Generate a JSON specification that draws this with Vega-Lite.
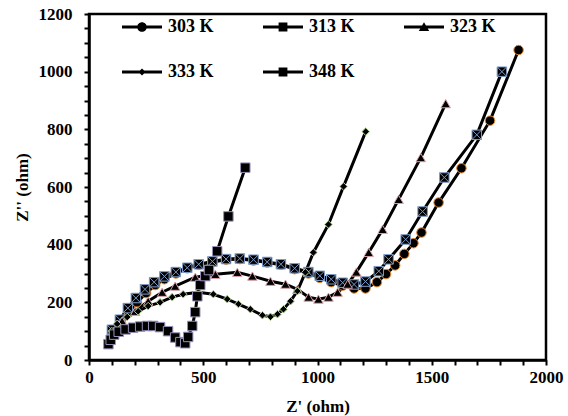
{
  "$schema": "https://vega.github.io/schema/vega-lite/v6.json",
  "autosize": "none",
  "width": 457,
  "height": 346,
  "padding": {"left": 89, "top": 14, "right": 22, "bottom": 56},
  "background": "white",
  "config": {
    "view": {"stroke": "black", "strokeWidth": 2.5},
    "font": "Liberation Serif"
  },
  "data": {"values": [
    {"s":"303 K","x":105,"y":98},{"s":"303 K","x":140,"y":130},{"s":"303 K","x":175,"y":165},{"s":"303 K","x":210,"y":200},{"s":"303 K","x":250,"y":232},{"s":"303 K","x":290,"y":260},{"s":"303 K","x":330,"y":280},{"s":"303 K","x":380,"y":300},{"s":"303 K","x":430,"y":318},{"s":"303 K","x":480,"y":330},{"s":"303 K","x":540,"y":340},{"s":"303 K","x":600,"y":348},{"s":"303 K","x":660,"y":350},{"s":"303 K","x":720,"y":345},{"s":"303 K","x":780,"y":338},{"s":"303 K","x":840,"y":330},{"s":"303 K","x":900,"y":315},{"s":"303 K","x":960,"y":300},{"s":"303 K","x":1010,"y":285},{"s":"303 K","x":1060,"y":270},{"s":"303 K","x":1110,"y":258},{"s":"303 K","x":1160,"y":248},{"s":"303 K","x":1210,"y":248},{"s":"303 K","x":1260,"y":270},{"s":"303 K","x":1300,"y":298},{"s":"303 K","x":1340,"y":328},{"s":"303 K","x":1380,"y":368},{"s":"303 K","x":1420,"y":405},{"s":"303 K","x":1455,"y":442},{"s":"303 K","x":1530,"y":546},{"s":"303 K","x":1630,"y":665},{"s":"303 K","x":1755,"y":830},{"s":"303 K","x":1880,"y":1075},
    {"s":"313 K","x":100,"y":105},{"s":"313 K","x":135,"y":140},{"s":"313 K","x":170,"y":180},{"s":"313 K","x":205,"y":215},{"s":"313 K","x":245,"y":245},{"s":"313 K","x":285,"y":270},{"s":"313 K","x":330,"y":290},{"s":"313 K","x":380,"y":305},{"s":"313 K","x":430,"y":320},{"s":"313 K","x":480,"y":332},{"s":"313 K","x":540,"y":342},{"s":"313 K","x":600,"y":350},{"s":"313 K","x":660,"y":352},{"s":"313 K","x":720,"y":348},{"s":"313 K","x":780,"y":340},{"s":"313 K","x":840,"y":332},{"s":"313 K","x":900,"y":318},{"s":"313 K","x":960,"y":305},{"s":"313 K","x":1010,"y":292},{"s":"313 K","x":1060,"y":280},{"s":"313 K","x":1110,"y":268},{"s":"313 K","x":1160,"y":262},{"s":"313 K","x":1210,"y":272},{"s":"313 K","x":1268,"y":308},{"s":"313 K","x":1311,"y":349},{"s":"313 K","x":1386,"y":418},{"s":"313 K","x":1460,"y":515},{"s":"313 K","x":1555,"y":633},{"s":"313 K","x":1697,"y":781},{"s":"313 K","x":1807,"y":1000},
    {"s":"323 K","x":110,"y":100},{"s":"323 K","x":145,"y":135},{"s":"323 K","x":202,"y":169},{"s":"323 K","x":259,"y":204},{"s":"323 K","x":320,"y":235},{"s":"323 K","x":377,"y":256},{"s":"323 K","x":465,"y":287},{"s":"323 K","x":553,"y":297},{"s":"323 K","x":649,"y":304},{"s":"323 K","x":715,"y":291},{"s":"323 K","x":794,"y":273},{"s":"323 K","x":860,"y":263},{"s":"323 K","x":912,"y":245},{"s":"323 K","x":961,"y":218},{"s":"323 K","x":1004,"y":211},{"s":"323 K","x":1048,"y":218},{"s":"323 K","x":1088,"y":235},{"s":"323 K","x":1132,"y":263},{"s":"323 K","x":1170,"y":305},{"s":"323 K","x":1224,"y":373},{"s":"323 K","x":1285,"y":453},{"s":"323 K","x":1355,"y":557},{"s":"323 K","x":1452,"y":702},{"s":"323 K","x":1561,"y":889},
    {"s":"333 K","x":100,"y":100},{"s":"333 K","x":123,"y":125},{"s":"333 K","x":167,"y":149},{"s":"333 K","x":215,"y":169},{"s":"333 K","x":259,"y":187},{"s":"333 K","x":311,"y":200},{"s":"333 K","x":364,"y":218},{"s":"333 K","x":412,"y":228},{"s":"333 K","x":478,"y":235},{"s":"333 K","x":544,"y":228},{"s":"333 K","x":605,"y":211},{"s":"333 K","x":654,"y":194},{"s":"333 K","x":706,"y":176},{"s":"333 K","x":759,"y":155},{"s":"333 K","x":794,"y":150},{"s":"333 K","x":825,"y":159},{"s":"333 K","x":851,"y":176},{"s":"333 K","x":882,"y":204},{"s":"333 K","x":912,"y":239},{"s":"333 K","x":947,"y":304},{"s":"333 K","x":982,"y":373},{"s":"333 K","x":1048,"y":470},{"s":"333 K","x":1114,"y":602},{"s":"333 K","x":1211,"y":792},
    {"s":"348 K","x":85,"y":55},{"s":"348 K","x":95,"y":70},{"s":"348 K","x":110,"y":88},{"s":"348 K","x":130,"y":98},{"s":"348 K","x":160,"y":106},{"s":"348 K","x":193,"y":112},{"s":"348 K","x":224,"y":116},{"s":"348 K","x":254,"y":118},{"s":"348 K","x":281,"y":118},{"s":"348 K","x":311,"y":114},{"s":"348 K","x":346,"y":100},{"s":"348 K","x":377,"y":78},{"s":"348 K","x":400,"y":62},{"s":"348 K","x":421,"y":58},{"s":"348 K","x":434,"y":80},{"s":"348 K","x":452,"y":118},{"s":"348 K","x":465,"y":166},{"s":"348 K","x":474,"y":221},{"s":"348 K","x":487,"y":260},{"s":"348 K","x":509,"y":291},{"s":"348 K","x":525,"y":312},{"s":"348 K","x":561,"y":377},{"s":"348 K","x":610,"y":498},{"s":"348 K","x":684,"y":667}
  ]},
  "encoding": {
    "x": {"field": "x", "type": "quantitative",
      "scale": {"domain": [0, 2000], "nice": false},
      "axis": {"title": "Z' (ohm)", "values": [0,100,200,300,400,500,600,700,800,900,1000,1100,1200,1300,1400,1500,1600,1700,1800,1900,2000],
        "labelExpr": "datum.value % 500 === 0 ? datum.label : ''",
        "format": "d", "grid": false, "domainColor": "black", "domainWidth": 2.5, "tickColor": "black", "tickWidth": 2, "tickSize": 5,
        "labelFont": "Liberation Serif", "labelFontWeight": "bold", "labelFontSize": 17, "labelColor": "black", "labelPadding": 4, "labelFlush": false, "labelOverlap": false,
        "titleFont": "Liberation Serif", "titleFontWeight": "bold", "titleFontSize": 17, "titleColor": "black", "titlePadding": 13}},
    "y": {"field": "y", "type": "quantitative",
      "scale": {"domain": [0, 1200], "nice": false},
      "axis": {"title": "Z'' (ohm)", "values": [0,50,100,150,200,250,300,350,400,450,500,550,600,650,700,750,800,850,900,950,1000,1050,1100,1150,1200],
        "labelExpr": "datum.value % 200 === 0 ? datum.label : ''",
        "format": "d", "grid": false, "domainColor": "black", "domainWidth": 2.5, "tickColor": "black", "tickWidth": 2, "tickSize": 5,
        "labelFont": "Liberation Serif", "labelFontWeight": "bold", "labelFontSize": 17, "labelColor": "black", "labelPadding": 12, "labelFlush": false, "labelOverlap": false,
        "titleFont": "Liberation Serif", "titleFontWeight": "bold", "titleFontSize": 17, "titleColor": "black", "titlePadding": 7}}
  },
  "layer": [
    {"mark": {"type": "line", "color": "black", "strokeWidth": 3},
     "encoding": {"detail": {"field": "s"}, "order": {"value": null}}},
    {"mark": {"type": "point", "filled": true, "fill": "black", "strokeWidth": 1, "opacity": 1, "size": 90},
     "encoding": {
       "shape": {"field": "s", "type": "nominal",
         "scale": {"domain": ["303 K","313 K","323 K","333 K","348 K"],
           "range": ["circle", "M-1,-1L1,-1L1,1L-1,1ZM-1,-1L1,1M-1,1L1,-1", "triangle-up", "M0,-0.8L0.8,0L0,0.8L-0.8,0Z", "square"]},
         "legend": null},
       "stroke": {"field": "s", "type": "nominal",
         "scale": {"domain": ["303 K","313 K","323 K","333 K","348 K"],
           "range": ["#e8892b", "#7e9cc8", "#d9a0a8", "#b8d49a", "#9a90b8"]}, "legend": null}
     }},
    {"transform": [{"filter": "datum.x < 0"}],
     "mark": {"type": "point", "filled": true, "fill": "black", "color": "black", "opacity": 1},
     "encoding": {
       "shape": {"field": "s", "type": "nominal",
         "scale": {"domain": ["303 K","313 K","323 K","333 K","348 K"],
           "range": [
             "M-5,-0.4L5,-0.4L5,0.4L-5,0.4ZM1.2,0A1.2,1.2,0,1,1,-1.2,0A1.2,1.2,0,1,1,1.2,0Z",
             "M-5,-0.4L5,-0.4L5,0.4L-5,0.4ZM-1.1,-1.1L1.1,-1.1L1.1,1.1L-1.1,1.1Z",
             "M-5,-0.4L5,-0.4L5,0.4L-5,0.4ZM0,-1.2L1.3,1L-1.3,1Z",
             "M-5,-0.4L5,-0.4L5,0.4L-5,0.4ZM0,-0.9L0.9,0L0,0.9L-0.9,0Z",
             "M-5,-0.4L5,-0.4L5,0.4L-5,0.4ZM-1.1,-1.1L1.1,-1.1L1.1,1.1L-1.1,1.1Z"]},
         "legend": {
           "orient": "none", "legendX": 44, "legendY": 4, "columns": 3, "direction": "horizontal", "title": null,
           "symbolSize": 64, "symbolFillColor": "black",
           "labelFont": "Liberation Serif", "labelFontWeight": "bold", "labelFontSize": 18, "labelColor": "black",
           "labelOffset": 17, "columnPadding": 46, "rowPadding": 27
         }}
     }}
  ],
  "resolve": {"scale": {"shape": "independent", "stroke": "independent"}}
}
